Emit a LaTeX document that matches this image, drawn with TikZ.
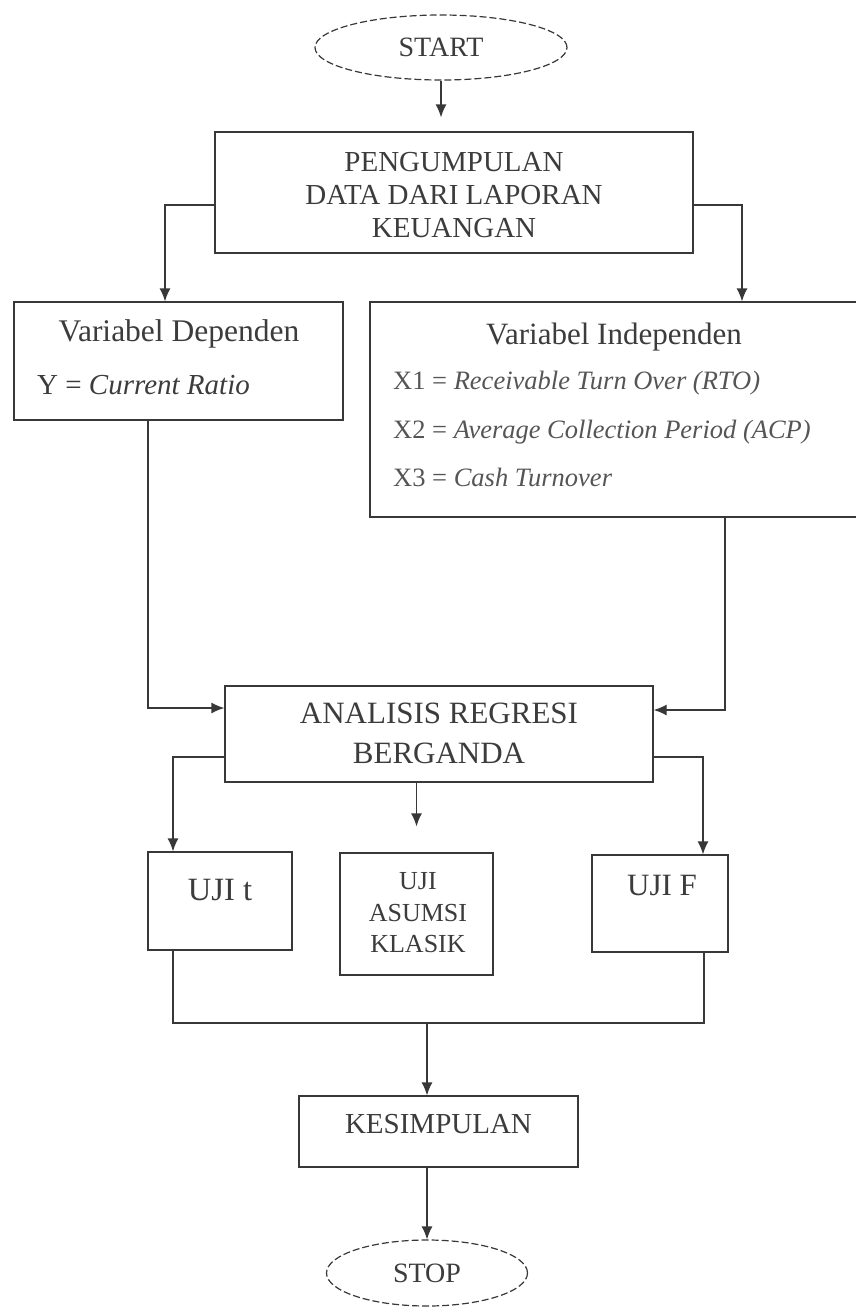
\documentclass[tikz,border=0pt]{standalone}
\usepackage{fontspec}
\setmainfont{Liberation Serif}
\usetikzlibrary{arrows.meta,shapes.geometric}
\definecolor{ln}{HTML}{383838}
\definecolor{tx}{HTML}{3C3C3C}
\definecolor{txl}{HTML}{555555}
\begin{document}
\begin{tikzpicture}[x=1pt,y=-1pt,
  box/.style={draw=ln, line width=1.3pt, rectangle, inner sep=0pt},
  oval/.style={draw=ln, line width=1.2pt, ellipse, dash pattern=on 7pt off 3pt, inner sep=0pt, text=tx, font=\fontsize{28}{32}\selectfont},
  lbl/.style={text=tx, font=\fontsize{29}{33}\selectfont, inner sep=0pt, align=center},
  big/.style={text=tx, font=\fontsize{32.5}{40}\selectfont, inner sep=0pt, align=center},
  xl/.style={text=txl, font=\fontsize{26.5}{30}\selectfont, inner sep=0pt, anchor=west},
  small/.style={text=tx, font=\fontsize{26}{31.5}\selectfont, inner sep=0pt, align=center},
  conn/.style={draw=ln, line width=1.3pt},
  arr/.style={conn, -{Latex[length=13pt,width=11pt]}},
]
\useasboundingbox (0,0) rectangle (856,1307);
\fill[white] (0,0) rectangle (856,1307);
\clip (0,0) rectangle (856,1307);

% shapes
\node[oval, minimum width=252pt, minimum height=65pt] (start) at (441,47.5) {START};
\node[box, minimum width=478pt, minimum height=121pt] (peng) at (454,192.5) {};
\node[box, minimum width=329pt, minimum height=118pt] (vdep) at (178.5,361) {};
\node[box, minimum width=492pt, minimum height=215pt] (vind) at (616,409.5) {};
\node[box, minimum width=428pt, minimum height=96pt] (anal) at (439,734) {};
\node[box, minimum width=144pt, minimum height=98pt] (ujit) at (220,901) {};
\node[box, minimum width=153pt, minimum height=122pt] (asum) at (416.5,914) {};
\node[box, minimum width=136pt, minimum height=97pt] (ujif) at (660,903.5) {};
\node[box, minimum width=279pt, minimum height=71pt] (kes) at (438.5,1131.5) {};
\node[oval, minimum width=201pt, minimum height=66pt] (stop) at (427,1273) {STOP};

% texts
\node[lbl] (tpeng) at (454,195) {PENGUMPULAN\\DATA DARI LAPORAN\\KEUANGAN};
\node[lbl, font=\fontsize{31.5}{34}\selectfont] (tvdep) at (179,334) {Variabel Dependen};
\node[xl, text=tx, font=\fontsize{29}{33}\selectfont] (ty) at (37,385) {Y = \textit{Current Ratio}};
\node[lbl, font=\fontsize{31}{34}\selectfont] (tvind) at (614,337) {Variabel Independen};
\node[xl] (tx1) at (393,383) {X1 = \textit{Receivable Turn Over (RTO)}};
\node[xl] (tx2) at (393,432) {X2 = \textit{Average Collection Period (ACP)}};
\node[xl] (tx3) at (393,477) {X3 = \textit{Cash Turnover}};
\node[lbl, font=\fontsize{31}{40}\selectfont] (tanal) at (439,733) {ANALISIS REGRESI\\BERGANDA};
\node[big] (tujit) at (220,890) {UJI t};
\node[small] (tasum) at (418,913) {UJI\\ASUMSI\\KLASIK};
\node[big, font=\fontsize{31}{40}\selectfont] (tujif) at (662,885) {UJI F};
\node[lbl] (tkes) at (438.5,1124) {KESIMPULAN};

% bend points
\coordinate (b1) at (165,205);
\coordinate (b2) at (742,205);
\coordinate (b3) at (148,708);
\coordinate (b4) at (725,710);
\coordinate (b5) at (173,757);
\coordinate (b6) at (703,757);
\coordinate (b7) at (173,1023);
\coordinate (b8) at (704,1023);
\coordinate (b9) at (427,1023);

% connectors
\draw[arr, shorten >=14pt] (start.south) -- (start.south |- peng.north);
\draw[arr] (peng.west |- b1) -- (b1) -- (b1 |- vdep.north);
\draw[arr] (peng.east |- b2) -- (b2) -- (b2 |- vind.north);
\draw[arr] (b3 |- vdep.south) -- (b3) -- (b3 -| anal.west);
\draw[arr] (b4 |- vind.south) -- (b4) -- (b4 -| anal.east);
\draw[arr] (anal.west |- b5) -- (b5) -- (b5 |- ujit.north);
\draw[arr, shorten >=26pt] (anal.south -| asum.north) -- (asum.north);
\draw[arr] (anal.east |- b6) -- (b6) -- (b6 |- ujif.north);
\draw[conn] (b7 |- ujit.south) -- (b7) -- (b8) -- (b8 |- ujif.south);
\draw[arr] (b9) -- (b9 |- kes.north);
\draw[arr] (kes.south -| stop.north) -- (stop.north);
\end{tikzpicture}
\end{document}
